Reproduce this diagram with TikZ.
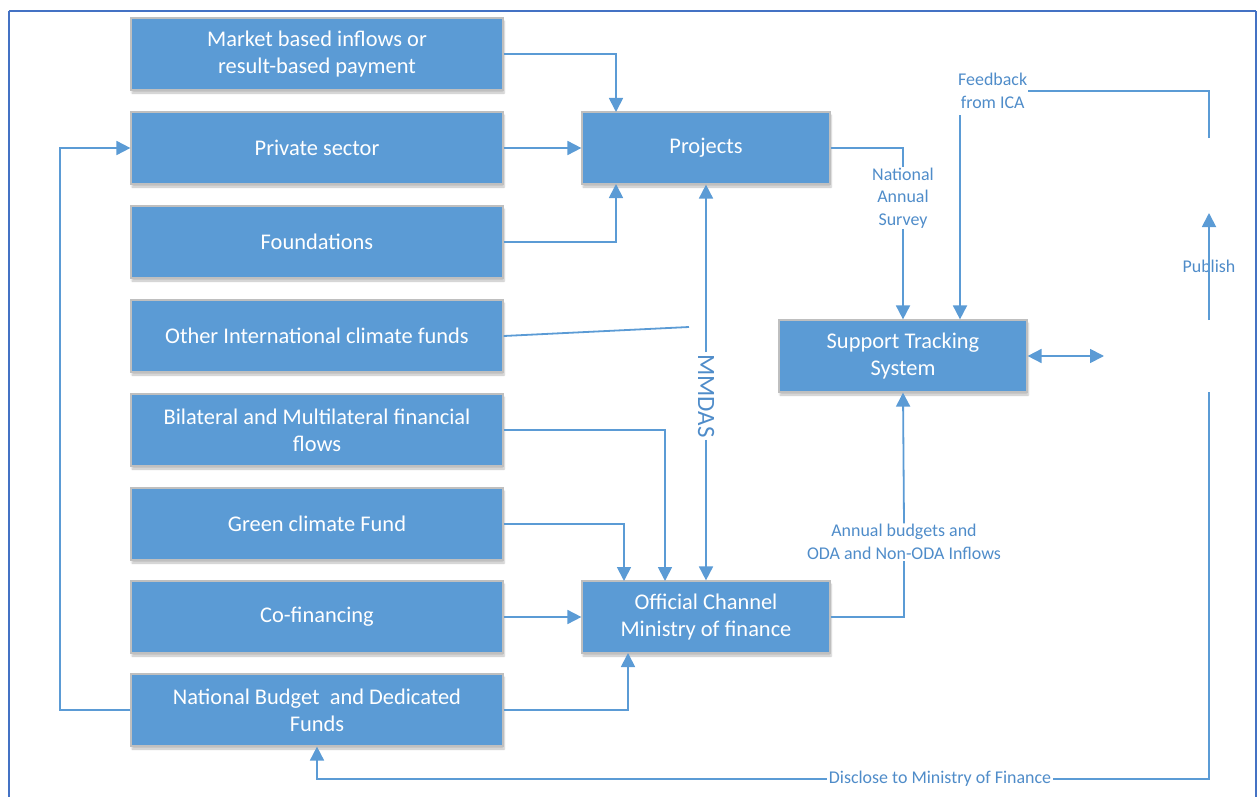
\documentclass[tikz,border=0pt]{standalone}
\usepackage{fontspec}
\setmainfont{Carlito}
\usetikzlibrary{arrows.meta,shadows.blur}
\definecolor{boxblue}{HTML}{5B9BD5}
\definecolor{boxedge}{HTML}{BFBFBF}
\definecolor{linkblue}{HTML}{5B9BD5}
\definecolor{labelblue}{HTML}{4F8CC9}
\definecolor{frameblue}{HTML}{4472C4}
\tikzset{
  flowbox/.style={draw=boxedge, line width=1.2bp, fill=boxblue, text=white,
    minimum width=372bp, minimum height=72bp, inner sep=0pt, align=center,
    font=\fontsize{22.5}{27.5}\selectfont,
    blur shadow={shadow xshift=1bp, shadow yshift=-3bp, shadow blur steps=5, shadow opacity=25}},
  hubbox/.style={flowbox, minimum width=248bp},
  link/.style={draw=linkblue, line width=1.8bp},
  arrowlink/.style={link, -{Triangle[length=14bp,width=14bp]}},
  twoway/.style={link, {Triangle[length=14bp,width=14bp]}-{Triangle[length=14bp,width=14bp]}},
  flowlabel/.style={text=labelblue, align=center, inner sep=1bp,
    font=\fontsize{18}{22.5}\selectfont},
}
\begin{document}
\begin{tikzpicture}[x=1bp,y=-1bp]
\useasboundingbox (0,0) rectangle (1258,797);
% outer frame
\draw[frameblue, line width=2.5bp] (9,11) -- (1256,11);
\draw[frameblue, line width=2.5bp] (9,11) -- (9,797);
\draw[frameblue, line width=1.2bp] (1256,11) -- (1256,797);

% sources
\node[flowbox] (market) at (317,54) {Market based inflows or\\result-based payment};
\node[flowbox] (private) at (317,148) {Private sector};
\node[flowbox] (found) at (317,242) {Foundations};
\node[flowbox] (other) at (317,336) {Other International climate funds};
\node[flowbox] (bilat) at (317,430) {Bilateral and Multilateral financial\\flows};
\node[flowbox] (green) at (317,524) {Green climate Fund};
\node[flowbox] (cofin) at (317,617) {Co-financing};
\node[flowbox] (natbud) at (317,710) {National Budget\ \ and Dedicated\\Funds};

% hubs
\node[hubbox] (proj) at (706,148) {Projects};
\node[hubbox] (official) at (706,617) {Official Channel\\Ministry of finance};
\node[hubbox] (sts) at (903,356) {Support Tracking\\System};

% connector labels
\node[flowlabel, rotate=-90, inner sep=2bp] (mmdas) at (706,396) {\fontsize{25}{28}\selectfont MMDAS};
\node[flowlabel] (nas) at (903,198) {National\\Annual\\Survey};
\node[flowlabel] (abud) at (904,542) {Annual budgets and\\ODA and Non-ODA Inflows};
\node[flowlabel, anchor=west] (fb) at (957,91) {Feedback\\from ICA};
\node[flowlabel, fill=white] (pub) at (1209,266) {Publish};
\node[flowlabel, fill=white, inner sep=2bp] (disc) at (940,779) {Disclose to Ministry of Finance};

% coordinates for free ends
\coordinate (dbl) at (1104,356);
\coordinate (pubtop) at (1209,213);
\coordinate (pubbot) at (1209,320);
\coordinate (fbright) at (1209,138);
\coordinate (fbdrop) at (960,115);
\coordinate (discstart) at (1209,392);
\coordinate (otherend) at (689,327);

% flows into Projects
\draw[arrowlink] (market.east) -| (616,112);
\draw[arrowlink] (private.east) -- (proj.west);
\draw[arrowlink] (found.east) -| (616,184);
\draw[link] (other.east) -- (otherend);
\draw[arrowlink] (mmdas.west) -- (proj.south);

% flows into the Official channel
\draw[arrowlink] (mmdas.east) -- (official.north);
\draw[arrowlink] (bilat.east) -| (665,581);
\draw[arrowlink] (green.east) -| (624,581);
\draw[arrowlink] (cofin.east) -- (official.west);
\draw[arrowlink] (natbud.east) -| (628,653);
\draw[arrowlink] (natbud.west) -- (60,710) |- (private.west);

% reporting to the tracking system
\draw[link] (proj.east) -| (nas.north);
\draw[arrowlink] (nas.south) -- (sts.north);
\draw[link] (official.east) -| (abud.south);
\draw[arrowlink] (abud.north) -- (sts.south);
\draw[link] (fbright) |- (fb.east);
\draw[arrowlink] (fbdrop) -- (sts.north -| fbdrop);
\draw[twoway] (sts.east) -- (dbl);

% publishing and disclosure
\draw[arrowlink] (pubbot) -- (pubtop);
\draw[link] (discstart) |- (disc.east);
\draw[arrowlink] (disc.west) -| (natbud.south);
\end{tikzpicture}
\end{document}
